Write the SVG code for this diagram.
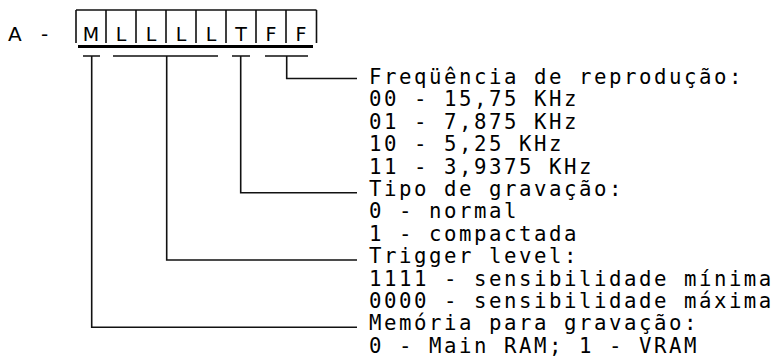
<svg xmlns="http://www.w3.org/2000/svg" width="780" height="358" viewBox="0 0 780 358">
<style>
.bx{fill:none;stroke:#111;stroke-width:1.6}
.bot{fill:none;stroke:#000;stroke-width:2.8}
.cn{fill:none;stroke:#111;stroke-width:1.6}
.cell{font-family:"DejaVu Sans",sans-serif;font-size:19px;fill:#000;text-anchor:middle}
.lbl{font-family:"DejaVu Sans",sans-serif;font-size:20px;fill:#000}
.mono{font-family:"DejaVu Sans Mono","Liberation Mono",monospace;font-size:20.7px;letter-spacing:2.54px;fill:#000}
</style>
<rect width="780" height="358" fill="#fff"/>
<g id="register">
<text class="lbl" y="41"><tspan x="8">A</tspan><tspan x="41">-</tspan></text>
<path class="bx" d="M76,10H316.5M76,10V43M106,10V43M136,10V43M166,10V43M196,10V43M226,10V43M256,10V43M286,10V43M316.5,10V43"/>
<path class="bot" d="M78,46.5H313"/>
<text class="cell" y="41"><tspan x="91">M</tspan><tspan x="121">L</tspan><tspan x="151">L</tspan><tspan x="181">L</tspan><tspan x="211">L</tspan><tspan x="241">T</tspan><tspan x="271">F</tspan><tspan x="301">F</tspan></text>
</g>
<g id="connectors">
<path class="cn" d="M83,56H100M91.7,56V327.3H357"/>
<path class="cn" d="M113,56H218M166.7,56V260H357"/>
<path class="cn" d="M232,56H250M240.7,56V192.7H357"/>
<path class="cn" d="M265,56H308M286.7,56V78.5H357"/>
</g>
<g id="freq">
<text class="mono" x="369" y="84">Freqüência de reprodução:<tspan x="369" dy="22.4">00 - 15,75 KHz</tspan><tspan x="369" dy="22.4">01 - 7,875 KHz</tspan><tspan x="369" dy="22.4">10 - 5,25 KHz</tspan><tspan x="369" dy="22.4">11 - 3,9375 KHz</tspan></text>
</g>
<g id="tipo">
<text class="mono" x="369" y="196">Tipo de gravação:<tspan x="369" dy="22.4">0 - normal</tspan><tspan x="369" dy="22.4">1 - compactada</tspan></text>
</g>
<g id="trigger">
<text class="mono" x="369" y="263.2">Trigger level:<tspan x="369" dy="22.4">1111 - sensibilidade mínima</tspan><tspan x="369" dy="22.4">0000 - sensibilidade máxima</tspan></text>
</g>
<g id="memoria">
<text class="mono" x="369" y="330.2">Memória para gravação:<tspan x="369" dy="22.4">0 - Main RAM; 1 - VRAM</tspan></text>
</g>
</svg>
